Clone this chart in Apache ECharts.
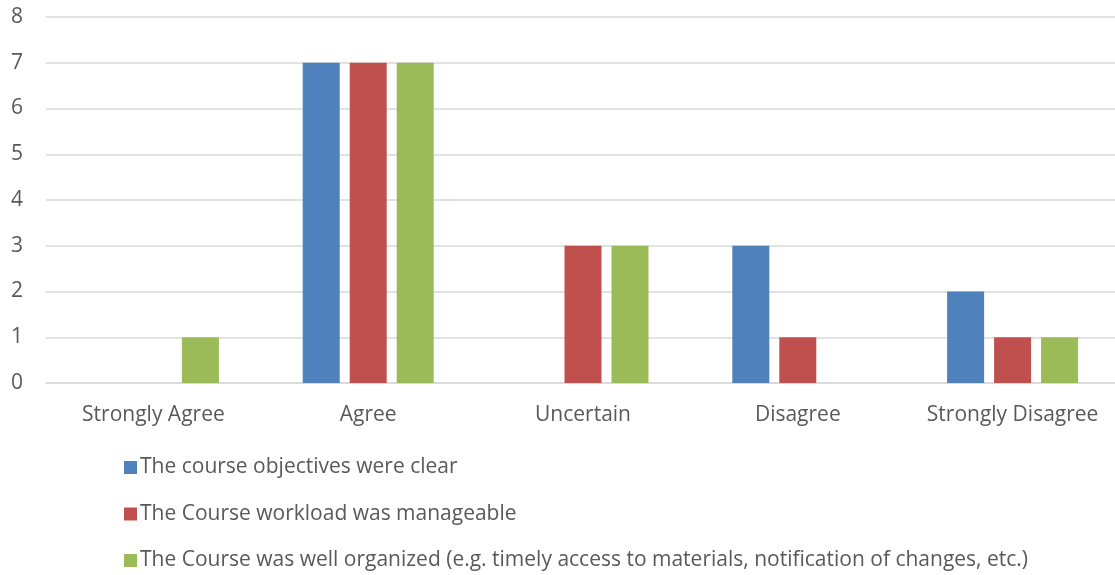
<!DOCTYPE html>
<html><head><meta charset="utf-8">
<script src="https://cdn.jsdelivr.net/npm/echarts@6/dist/echarts.min.js"></script>
<style>html,body{margin:0;padding:0;background:#fff}#c{width:1115px;height:575px}</style>
</head><body><div id="c"></div>
<script>
const categories = ['Strongly Agree', 'Agree', 'Uncertain', 'Disagree', 'Strongly Disagree'];
const seriesNames = [
  'The course objectives were clear',
  'The Course workload was manageable',
  'The Course was well organized (e.g. timely access to materials, notification of changes, etc.)'
];
const objectivesClear = [0, 7, 0, 3, 2];
const workloadManageable = [0, 7, 3, 1, 1];
const wellOrganized = [1, 7, 3, 0, 1];
const yTicks = [0, 1, 2, 3, 4, 5, 6, 7, 8];

const colors = ['#4F81BD', '#C0504D', '#9BBB59'];
const font = 'Open Sans';
const chart = echarts.init(document.getElementById('c'));
const dataSets = [objectivesClear, workloadManageable, wellOrganized];
chart.setOption({
  animation: false,
  color: colors,
  grid: { left: 46, width: 1074, top: 17, height: 366, outerBoundsMode: 'none' },
  legend: {
    orient: 'vertical', left: 119, top: 452, height: 123, width: 1000,
    itemWidth: 13, itemHeight: 13, itemGap: 25.5,
    icon: 'rect',
    textStyle: { fontFamily: font, fontSize: 21, color: '#595959', padding: [0, 0, 0, -2] },
    data: seriesNames
  },
  xAxis: {
    type: 'category', data: categories,
    axisLine: { lineStyle: { color: '#D9D9D9', width: 1.5 } },
    axisTick: { show: false },
    axisLabel: { interval: 0, fontFamily: font, fontSize: 21, color: '#595959', margin: 22 }
  },
  yAxis: {
    type: 'value', min: yTicks[0], max: yTicks[yTicks.length - 1], interval: 1,
    axisLine: { show: false }, axisTick: { show: false },
    splitLine: { lineStyle: { color: '#D9D9D9', width: 1.5 } },
    axisLabel: { fontFamily: font, fontSize: 21, color: '#595959', margin: 23,
      formatter: v => yTicks.includes(v) ? String(v) : '' }
  },
  series: seriesNames.map((n, i) => ({
    name: n, type: 'bar', data: dataSets[i],
    barWidth: 37, barGap: '27%'
  }))
});
</script></body></html>
